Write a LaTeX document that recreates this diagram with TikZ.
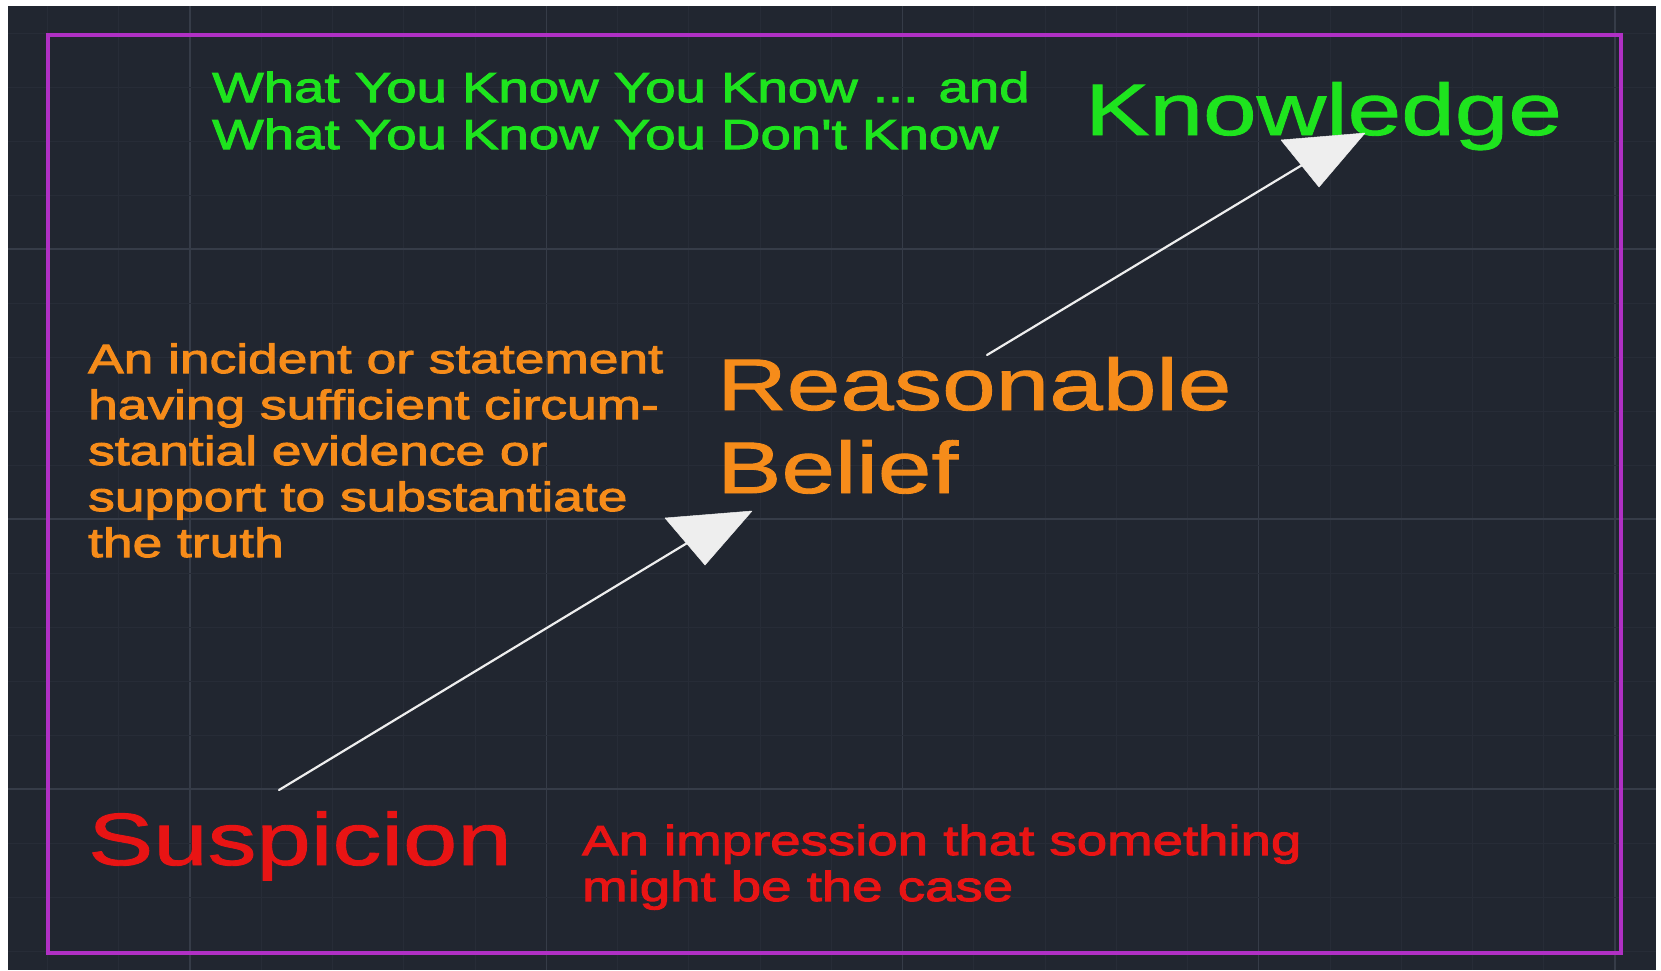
\documentclass[tikz,border=0pt]{standalone}
\usepackage{fontspec}
\setmainfont{Liberation Sans}
\newfontfamily\smallf[FakeStretch=1.3,FakeBold=2.5]{Liberation Sans}
\newfontfamily\bigf[FakeStretch=1.32,FakeBold=1.2]{Liberation Sans}
\definecolor{bgdark}{RGB}{33,38,48}
\definecolor{gridminor}{RGB}{39,44,55}
\definecolor{gridmajor}{RGB}{54,60,72}
\definecolor{frame}{RGB}{176,48,196}
\definecolor{kgreen}{RGB}{30,228,30}
\definecolor{borange}{RGB}{246,140,26}
\definecolor{sred}{RGB}{232,20,20}
\definecolor{arrowc}{RGB}{238,238,238}
\begin{document}
\begin{tikzpicture}[x=1pt,y=-1pt,
  smalltext/.style={anchor=base west, inner sep=0pt, align=left},
  bigtext/.style={anchor=base west, inner sep=0pt, align=left},
  conn/.style={draw=arrowc, line width=2.2pt, line cap=round},
  headtri/.style={fill=arrowc, draw=arrowc, line width=0.5pt, line join=round}]
\useasboundingbox (0,0) rectangle (1661,970);
\fill[white] (0,0) rectangle (1661,970);
\fill[bgdark] (8,6) rectangle (1656,970);
% grid
\foreach \i in {-2,...,20}{
  \pgfmathsetmacro\xx{190+71.25*\i}
  \pgfmathtruncatemacro\mm{mod(\i,5)}
  \ifnum\mm=0
    \draw[gridmajor, line width=1.4pt] (\xx,6) -- (\xx,970);
  \else
    \draw[gridminor, line width=1pt] (\xx,6) -- (\xx,970);
  \fi
}
\foreach \j in {-4,...,13}{
  \pgfmathsetmacro\yy{249+54*\j}
  \pgfmathtruncatemacro\mm{mod(\j,5)}
  \ifnum\mm=0
    \draw[gridmajor, line width=1.4pt] (8,\yy) -- (1656,\yy);
  \else
    \draw[gridminor, line width=1pt] (8,\yy) -- (1656,\yy);
  \fi
}
% frame
\draw[frame, line width=3.5pt] (48,35) rectangle (1621,953);
% texts (base anchor = baseline of the last line)
\node[smalltext, text=kgreen, font=\smallf\fontsize{42}{47}\selectfont] (kdesc) at (212,149)
  {What You Know You Know ... and\\What You Know You Don't Know};
\node[bigtext, text=kgreen, font=\bigf\fontsize{73}{83}\selectfont] (know) at (1085,135) {Knowledge};
\node[smalltext, text=borange, font=\smallf\fontsize{41}{46}\selectfont] (bdesc) at (88,557)
  {An incident or statement\\having sufficient circum-\\stantial evidence or\\support to substantiate\\the truth};
\node[bigtext, text=borange, font=\bigf\fontsize{73}{83}\selectfont] (belief) at (717,493) {Reasonable\\Belief};
\node[bigtext, text=sred, font=\bigf\fontsize{74}{84}\selectfont] (susp) at (88,865) {Suspicion};
\node[smalltext, text=sred, font=\smallf\fontsize{42}{46}\selectfont] (sdesc) at (582,901)
  {An impression that something\\might be the case};
% connectors
\coordinate (s1) at (279,790);
\coordinate (e1) at (707,531);
\coordinate (s2) at (987,355);
\coordinate (e2) at (1322,153);
\draw[conn] (s1) -- (e1);
\draw[conn] (s2) -- (e2);
\fill[headtri] (665,518) -- (752,511) -- (705,565) -- cycle;
\fill[headtri] (1281,140) -- (1365,133) -- (1319,187) -- cycle;
\end{tikzpicture}
\end{document}
